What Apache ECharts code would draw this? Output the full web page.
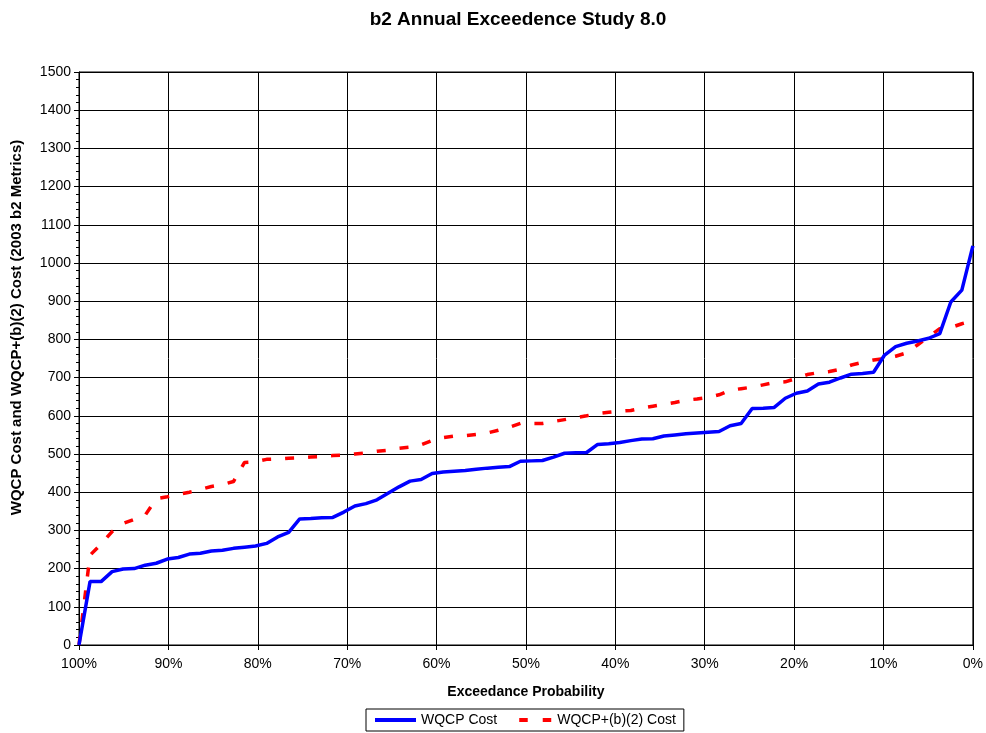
<!DOCTYPE html>
<html>
<head>
<meta charset="utf-8">
<script src="https://cdn.jsdelivr.net/npm/echarts@6/dist/echarts.min.js"></script>
<style>
html,body{margin:0;padding:0;background:#fff;}
#chart{width:986px;height:733px;}
</style>
</head>
<body>
<div id="chart"></div>
<script>
const title = 'b2 Annual Exceedence Study 8.0';
const xAxisName = 'Exceedance Probability';
const yAxisName = 'WQCP Cost and WQCP+(b)(2) Cost (2003 b2 Metrics)';
const seriesNames = ['WQCP Cost', 'WQCP+(b)(2) Cost'];

// Sorted annual values (82 years), plotted from 100% exceedance to 0%
const wqcpCost = [
  0, 166, 166, 192, 199, 200, 209, 214, 225, 229,
  238, 240, 246, 248, 253, 256, 259, 266, 283, 295,
  330, 331, 333, 334, 348, 364, 370, 380, 397, 414,
  429, 433, 449, 453, 455, 457, 460, 463, 465, 467,
  481, 482, 483, 492, 502, 503, 504, 525, 527, 530,
  535, 539, 540, 547, 550, 553, 555, 557, 559, 574,
  580, 619, 620, 622, 646, 659, 665, 683, 688, 699,
  709, 711, 714, 759, 781, 790, 796, 803, 815, 898,
  929, 1045
];
const wqcpB2Cost = [
  0, 235, 264, 297, 318, 329, 340, 383, 388, 394,
  400, 407, 415, 420, 428, 478, 480, 486, 487, 489,
  490, 492, 493, 496, 497, 500, 503, 507, 510, 515,
  518, 524, 535, 543, 547, 548, 551, 555, 562, 570,
  580, 580, 580, 585, 590, 595, 600, 606, 609, 612,
  614, 620, 625, 630, 635, 641, 644, 648, 655, 667,
  671, 675, 681, 687, 689, 698, 708, 713, 716, 722,
  733, 740, 746, 750, 756, 765, 786, 807, 828, 831,
  841, 849
];

const n = wqcpCost.length;
const prob = wqcpCost.map((_, i) => (n - 1 - i) / (n - 1) * 100);
const pairs = arr => arr.map((v, i) => [prob[i], v]);

const FONT = 'Liberation Sans, Arial, sans-serif';
const chart = echarts.init(document.getElementById('chart'), null, {renderer: 'canvas'});
chart.setOption({
  backgroundColor: '#fff',
  animation: false,
  title: {
    text: title,
    left: 513, top: 5, textAlign: 'center',
    textStyle: {fontFamily: FONT, fontSize: 19, fontWeight: 'bold', color: '#000'}
  },
  grid: {left: 79, right: 13, top: 72, bottom: 88, show: true, borderColor: '#000', borderWidth: 1},
  legend: {
    left: 366, top: 709,
    itemWidth: 41, itemHeight: 4, itemGap: 14,
    borderColor: '#000', borderWidth: 1, padding: [4, 8, 4, 9],
    textStyle: {fontFamily: FONT, fontSize: 14, color: '#000'},
    data: [
      {name: seriesNames[0], icon: 'path://M0,0H41V4H0Z'},
      {name: seriesNames[1], icon: 'path://M0,1.99H0.01V2H0Z M8,0H16.5V4H8Z M31.5,0H40V4H31.5Z M40.99,1.99H41V2H40.99Z'}
    ]
  },
  xAxis: {
    type: 'value', min: 0, max: 100, interval: 10, inverse: true,
    name: xAxisName, nameLocation: 'middle', nameGap: 40,
    nameTextStyle: {fontFamily: FONT, fontSize: 14, fontWeight: 'bold', color: '#000'},
    axisLine: {show: true, onZero: false, lineStyle: {color: '#000', width: 1}},
    axisTick: {show: true, inside: false, length: 5, lineStyle: {color: '#000'}},
    axisLabel: {fontFamily: FONT, fontSize: 14, color: '#000', margin: 12, formatter: v => v + '%'},
    splitLine: {show: true, lineStyle: {color: '#000', width: 1}}
  },
  yAxis: {
    type: 'value', min: 0, max: 1500, interval: 100, position: 'left',
    name: yAxisName, nameLocation: 'middle', nameGap: 55, nameRotate: 90,
    nameTextStyle: {fontFamily: FONT, fontSize: 15, fontWeight: 'bold', color: '#000', padding: [0, 0, 0, 62]},
    axisLine: {show: true, onZero: false, lineStyle: {color: '#000', width: 1}},
    axisTick: {show: true, inside: false, length: 5, lineStyle: {color: '#000'}},
    minorTick: {show: true, splitNumber: 5, length: 3, lineStyle: {color: '#000'}},
    axisLabel: {fontFamily: FONT, fontSize: 14, color: '#000', margin: 8, formatter: v => String(v)},
    splitLine: {show: true, lineStyle: {color: '#000', width: 1}}
  },
  series: [
    {
      name: seriesNames[0], type: 'line', data: pairs(wqcpCost),
      symbol: 'none', lineStyle: {color: '#0000FF', width: 3.5}, itemStyle: {color: '#0000FF'}, z: 3
    },
    {
      name: seriesNames[1], type: 'line', data: pairs(wqcpB2Cost),
      symbol: 'none', lineStyle: {color: '#FF0000', width: 3.5, type: [9, 14]}, itemStyle: {color: '#FF0000'}, z: 2
    }
  ]
});
</script>
</body>
</html>
